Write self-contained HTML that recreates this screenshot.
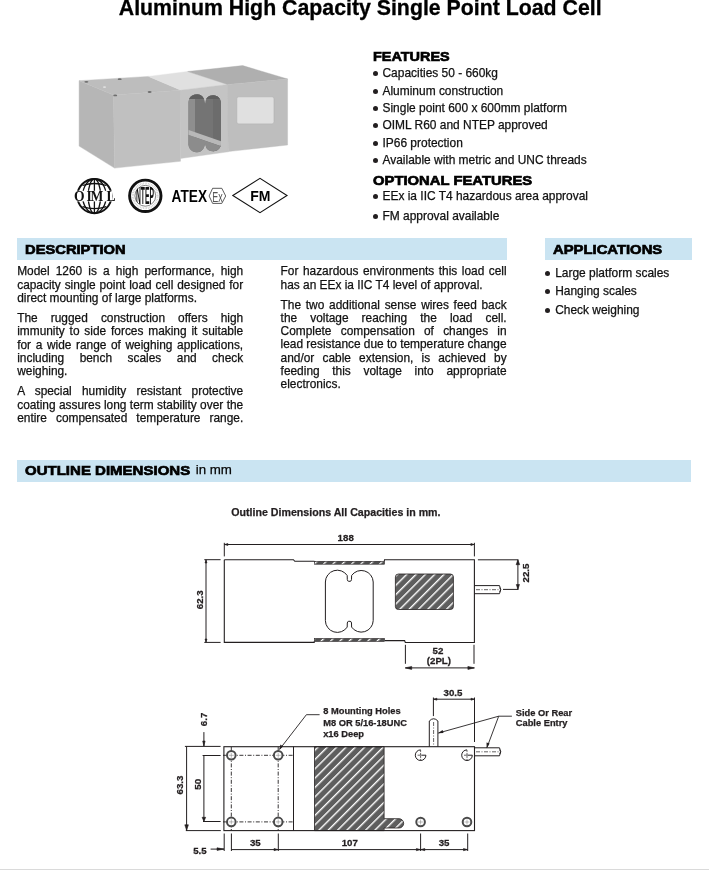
<!DOCTYPE html>
<html><head><meta charset="utf-8">
<style>
html,body{margin:0;padding:0;background:#fff;}
body{width:709px;height:870px;position:relative;overflow:hidden;will-change:transform;font-family:"Liberation Sans",sans-serif;color:#111;}
.a{position:absolute;white-space:pre;}
.title{font-weight:700;font-size:21.3px;line-height:25px;color:#000;-webkit-text-stroke:0.3px #000;}
.hd{font-weight:700;font-size:13.5px;line-height:16px;color:#000;transform-origin:0 0;-webkit-text-stroke:0.7px #000;}
.band{position:absolute;background:rgb(202,228,242);}
.li{font-size:11.95px;line-height:14px;-webkit-text-stroke:0.25px #111;}
.dot{position:absolute;width:5px;height:5px;border-radius:50%;background:#231f20;}
.ln{position:absolute;width:226px;font-size:11.9px;line-height:14px;white-space:nowrap;-webkit-text-stroke:0.25px #111;}
.j{text-align:justify;text-align-last:justify;}
.foot{position:absolute;left:0;top:868.6px;width:709px;height:1.4px;background:#dadada;}
svg{position:absolute;left:0;top:0;}
</style></head>
<body>
<div class="a title" style="left:118.80px;top:-4.26px;">Aluminum High Capacity Single Point Load Cell</div>
<div class="band" style="left:17px;top:238px;width:490px;height:22px;"></div>
<div class="band" style="left:545px;top:238px;width:147px;height:22px;"></div>
<div class="band" style="left:17px;top:460px;width:674px;height:21.5px;"></div>
<div class="a hd" style="left:372.70px;top:48.92px;transform:scaleX(1.0689)">FEATURES</div>
<div class="a hd" style="left:25.30px;top:242.02px;transform:scaleX(1.0901)">DESCRIPTION</div>
<div class="a hd" style="left:553.20px;top:242.12px;transform:scaleX(1.0978)">APPLICATIONS</div>
<div class="a hd" style="left:25.05px;top:462.62px;transform:scaleX(1.1122)">OUTLINE DIMENSIONS</div>
<div class="a li" style="left:195.70px;top:463.19px;color:#000;font-size:13.3px">in mm</div>
<div class="dot" style="left:372.50px;top:71.20px"></div>
<div class="a li" style="left:382.50px;top:66.11px;">Capacities 50 - 660kg</div>
<div class="dot" style="left:372.50px;top:88.60px"></div>
<div class="a li" style="left:382.50px;top:83.51px;">Aluminum construction</div>
<div class="dot" style="left:372.50px;top:106.00px"></div>
<div class="a li" style="left:382.50px;top:100.91px;">Single point 600 x 600mm platform</div>
<div class="dot" style="left:372.50px;top:123.40px"></div>
<div class="a li" style="left:382.50px;top:118.31px;">OIML R60 and NTEP approved</div>
<div class="dot" style="left:372.50px;top:140.80px"></div>
<div class="a li" style="left:382.50px;top:135.71px;">IP66 protection</div>
<div class="dot" style="left:372.50px;top:158.20px"></div>
<div class="a li" style="left:382.50px;top:153.11px;">Available with metric and UNC threads</div>
<div class="a hd" style="left:372.70px;top:172.62px;transform:scaleX(1.0978)">OPTIONAL FEATURES</div>
<div class="dot" style="left:372.50px;top:194.40px"></div>
<div class="a li" style="left:382.50px;top:189.31px;">EEx ia IIC T4 hazardous area approval</div>
<div class="dot" style="left:372.50px;top:213.80px"></div>
<div class="a li" style="left:382.50px;top:208.71px;">FM approval available</div>
<div class="dot" style="left:545.30px;top:271.20px"></div>
<div class="a li" style="left:555.20px;top:266.11px;">Large platform scales</div>
<div class="dot" style="left:545.30px;top:289.10px"></div>
<div class="a li" style="left:555.20px;top:284.01px;">Hanging scales</div>
<div class="dot" style="left:545.30px;top:307.80px"></div>
<div class="a li" style="left:555.20px;top:302.71px;">Check weighing</div>
<div class="ln j" style="left:17.2px;top:264.00px;">Model 1260 is a high performance, high</div>
<div class="ln j" style="left:17.2px;top:278.00px;">capacity single point load cell designed for</div>
<div class="ln" style="left:17.2px;top:291.00px;">direct mounting of large platforms.</div>
<div class="ln j" style="left:17.2px;top:311.00px;">The rugged construction offers high</div>
<div class="ln j" style="left:17.2px;top:324.00px;">immunity to side forces making it suitable</div>
<div class="ln j" style="left:17.2px;top:338.00px;">for a wide range of weighing applications,</div>
<div class="ln j" style="left:17.2px;top:351.00px;">including bench scales and check</div>
<div class="ln" style="left:17.2px;top:364.00px;">weighing.</div>
<div class="ln j" style="left:17.2px;top:384.00px;">A special humidity resistant protective</div>
<div class="ln j" style="left:17.2px;top:398.00px;word-spacing:-1px;">coating assures long term stability over the</div>
<div class="ln j" style="left:17.2px;top:411.00px;">entire compensated temperature range.</div>
<div class="ln j" style="left:280.6px;top:264.00px;">For hazardous environments this load cell</div>
<div class="ln" style="left:280.6px;top:278.00px;">has an EEx ia IIC T4 level of approval.</div>
<div class="ln j" style="left:280.6px;top:298.00px;">The two additional sense wires feed back</div>
<div class="ln j" style="left:280.6px;top:311.00px;">the voltage reaching the load cell.</div>
<div class="ln j" style="left:280.6px;top:324.00px;">Complete compensation of changes in</div>
<div class="ln j" style="left:280.6px;top:337.00px;word-spacing:-1px;">lead resistance due to temperature change</div>
<div class="ln j" style="left:280.6px;top:351.00px;">and/or cable extension, is achieved by</div>
<div class="ln j" style="left:280.6px;top:364.00px;">feeding this voltage into appropriate</div>
<div class="ln" style="left:280.6px;top:377.00px;">electronics.</div>
<svg width="709" height="870" viewBox="0 0 709 870" style="position:absolute;left:0;top:0">
<defs>
<pattern id="hat" patternUnits="userSpaceOnUse" width="6.6" height="6.6" patternTransform="rotate(45)">
<rect width="6.6" height="6.6" fill="#5e5e5e"/><rect x="0" y="0" width="1.4" height="6.6" fill="#fff"/>
</pattern>
<pattern id="hat2" patternUnits="userSpaceOnUse" width="6.6" height="6.6" patternTransform="rotate(45)">
<rect width="6.6" height="6.6" fill="#505050"/><rect x="0" y="0" width="1.3" height="6.6" fill="#fff"/>
</pattern>
<linearGradient id="hole" x1="0" y1="0" x2="1" y2="1">
<stop offset="0" stop-color="#8a8a8a"/><stop offset="0.5" stop-color="#6a6a6a"/><stop offset="1" stop-color="#9a9a9a"/>
</linearGradient>
</defs>
<g><polygon points="79.1,80.7 113.5,95 114.6,168.1 79.1,146.1" fill="#b6b6b6" stroke="#b6b6b6" stroke-width="0.4"/>
<polygon points="79.1,80.7 148.5,76.4 181,90.2 113.5,95" fill="#bdbdbd" stroke="#bdbdbd" stroke-width="0.4"/>
<polygon points="113.5,95 181,90.2 180.5,161.3 114.6,168.1" fill="#c0c0c0" stroke="#c0c0c0" stroke-width="0.4"/>
<polygon points="148.5,76.4 187.7,71.5 227.5,84.5 181,90.2" fill="#e0e0e0" stroke="#e0e0e0" stroke-width="0.4"/>
<polygon points="180.5,90.2 227.8,84.5 228.2,151.8 180.5,158.5" fill="#c4c4c4" stroke="#c4c4c4" stroke-width="0.4"/>
<polygon points="187.7,71.5 242.7,65.6 287.6,79 227.5,84.5" fill="#afafaf" stroke="#afafaf" stroke-width="0.4"/>
<polygon points="227.5,84.5 287.6,79 287.6,145 228.2,151.6" fill="#bebebe" stroke="#bebebe" stroke-width="0.4"/>
<rect x="236.8" y="96.8" width="37.2" height="27.1" rx="2" fill="#e0e0e0" stroke="#b0b0b0" stroke-width="0.6"/><ellipse cx="86.4" cy="81.8" rx="2" ry="0.9" fill="#6e6e6e"/><ellipse cx="119.7" cy="79.2" rx="2" ry="0.9" fill="#6e6e6e"/><ellipse cx="115.2" cy="95.4" rx="2" ry="0.9" fill="#6e6e6e"/><ellipse cx="149.6" cy="92" rx="2" ry="0.9" fill="#6e6e6e"/><ellipse cx="104.5" cy="87.1" rx="1.6" ry="0.9" fill="#e0e0e0"/><clipPath id="dbc"><path d="M188.5,102 A8.2,8.2 0 0 1 203.8,98.5 Q205,101.5 205.1,103.5 Q205.2,101.5 206.4,98.5 A8.2,8.2 0 0 1 221,102 V144.5 A8.2,8.2 0 0 1 206.4,148 Q205.2,145 205.1,143 Q205,145 203.8,148 A8.2,8.2 0 0 1 188.5,144.5 Z"/></clipPath><path d="M188.5,102 A8.2,8.2 0 0 1 203.8,98.5 Q205,101.5 205.1,103.5 Q205.2,101.5 206.4,98.5 A8.2,8.2 0 0 1 221,102 V144.5 A8.2,8.2 0 0 1 206.4,148 Q205.2,145 205.1,143 Q205,145 203.8,148 A8.2,8.2 0 0 1 188.5,144.5 Z" fill="#747474"/><g clip-path="url(#dbc)"><rect x="188" y="93" width="7" height="62" fill="#8e8e8e"/><rect x="213" y="93" width="8" height="62" fill="#6c6c6c"/><rect x="188" y="93" width="33" height="6" fill="#5e5e5e"/><path d="M186,129 L223,142 L223,147 L186,134 Z" fill="#b8b8b8"/><path d="M186,134 L223,147 L223,156 L186,156 Z" fill="#8c8c8c"/></g></g>
<g stroke="#111" fill="none" stroke-width="1.6"><circle cx="94.4" cy="196.1" r="17.1" stroke-width="1.9"/></g>
<g stroke="#111" fill="none" stroke-width="1.3"><line x1="94.4" y1="179" x2="94.4" y2="213.2"/><ellipse cx="94.4" cy="196.1" rx="6.2" ry="17.1"/><ellipse cx="94.4" cy="196.1" rx="11.8" ry="17.1"/><path d="M82.5,185.5 Q94.4,181.5 106.3,185.5"/><path d="M82.5,206.7 Q94.4,210.7 106.3,206.7"/></g>
<rect x="77" y="190.8" width="35" height="10.6" fill="#fff"/>
<text x="73.9" y="200.8" font-family="Liberation Serif" font-weight="700" font-size="13.6" fill="#111">O</text><text x="86.4" y="200.8" font-family="Liberation Serif" font-weight="700" font-size="13.6" fill="#111">I</text><text x="90.6" y="200.8" font-family="Liberation Serif" font-weight="700" font-size="13.6" fill="#111">M</text><text x="106.4" y="200.8" font-family="Liberation Serif" font-weight="700" font-size="13.6" fill="#111">L</text>
<g fill="none"><circle cx="145.3" cy="195.8" r="15.7" stroke="#111" stroke-width="2.9"/><circle cx="145.3" cy="195.8" r="12.4" stroke="#c8c8c8" stroke-width="2" stroke-dasharray="0.7 0.9"/><circle cx="145.3" cy="195.8" r="10.4" stroke="#666" stroke-width="0.8"/></g>
<clipPath id="ntc"><circle cx="145.3" cy="195.8" r="10.6"/></clipPath><g clip-path="url(#ntc)"><text x="136" y="204" font-family="Liberation Sans" font-weight="700" font-size="23" fill="#111" textLength="18" lengthAdjust="spacingAndGlyphs">NTEP</text></g>
<text x="171.6" y="201.7" font-family="Liberation Sans" font-weight="700" font-size="15.9" fill="#000" textLength="35.5" lengthAdjust="spacingAndGlyphs">ATEX</text>
<polygon points="209.1,196 212.6,188.3 221.8,188.3 225.7,196 221.8,203.4 212.6,203.4" fill="none" stroke="#333" stroke-width="0.8"/>
<text x="212.3" y="201.7" font-family="Liberation Sans" font-size="15" fill="#555" textLength="10.4" lengthAdjust="spacingAndGlyphs">Ex</text>
<polygon points="232.8,195.5 260,178.3 287,195.5 260,212.6" fill="none" stroke="#111" stroke-width="1.1"/>
<text x="260.3" y="200.7" font-family="Liberation Sans" font-weight="700" font-size="14" fill="#000" text-anchor="middle">FM</text>
<text x="0" y="0" transform="translate(335.9 516.2) scale(1.000 1)" font-family="Liberation Sans" font-weight="700" font-size="10.64" fill="#231f20" stroke="#231f20" stroke-width="0.25" text-anchor="middle">Outline Dimensions All Capacities in mm.</text>
<line x1="224.3" y1="544.5" x2="474.4" y2="544.5" stroke="#231f20" stroke-width="1" />
<line x1="224.3" y1="542.8" x2="224.3" y2="556.4" stroke="#231f20" stroke-width="1" />
<line x1="474.4" y1="542.8" x2="474.4" y2="556.4" stroke="#231f20" stroke-width="1" />
<polygon points="224.8,544.5 227.8,543.4 227.8,545.6" fill="#231f20" stroke="#231f20" stroke-width="0.6"/>
<polygon points="473.9,544.5 470.9,543.4 470.9,545.6" fill="#231f20" stroke="#231f20" stroke-width="0.6"/>
<text x="0" y="0" transform="translate(345.7 540.6) scale(1.080 1)" font-family="Liberation Sans" font-weight="700" font-size="9.00" fill="#231f20" stroke="#231f20" stroke-width="0.25" text-anchor="middle">188</text>
<path d="M224.3,559.7 H293.4 L294.8,561.3 H314.4 M384.3,561.3 L384.5,559.7 H474.4 V642.5 H405.3 L404.6,640.6 H384.7 M314.2,641.3 V642.4 H224.3 V559.7" stroke="#231f20" stroke-width="1.1" fill="none" />
<rect x="314.4" y="561.3" width="70" height="2.9" fill="url(#hat2)" stroke="#231f20" stroke-width="0.6"/>
<rect x="314.4" y="638.5" width="70" height="2.9" fill="url(#hat2)" stroke="#231f20" stroke-width="0.6"/>
<path d="M325.4,582 A11.9,11.9 0 0 1 347.2,575.5 L347.3,579.6 Q347.5,581.3 348.7,581.3 H350.1 Q351.3,581.3 351.5,579.6 L351.6,575.5 A11.9,11.9 0 0 1 373.2,582 V620.6 A11.9,11.9 0 0 1 351.6,627.1 L351.5,623 Q351.3,621.3 350.1,621.3 H348.7 Q347.5,621.3 347.3,623 L347.2,627.1 A11.9,11.9 0 0 1 325.4,620.6 Z" stroke="#231f20" stroke-width="1" fill="none" />
<rect x="395.4" y="574" width="58" height="35.5" rx="3" fill="url(#hat)" stroke="#231f20" stroke-width="0.8"/>
<path d="M474.4,585.6 H499.5 Q502,589.6 499.5,593.7 H474.4" stroke="#231f20" stroke-width="1" fill="none" />
<path d="M499.6,587.6 Q501.5,589.8 499.6,592" stroke="#231f20" stroke-width="0.8" fill="none" />
<line x1="476" y1="589.7" x2="499" y2="589.7" stroke="#231f20" stroke-width="0.7" stroke-dasharray="4 1.5 1 1.5"/>
<line x1="477.9" y1="559.8" x2="518.4" y2="559.8" stroke="#231f20" stroke-width="1" />
<line x1="503" y1="589.4" x2="518.4" y2="589.4" stroke="#231f20" stroke-width="1" />
<line x1="517.9" y1="559.8" x2="517.9" y2="589.4" stroke="#231f20" stroke-width="1" />
<polygon points="517.9,559.9 516.1,564.6999999999999 519.6999999999999,564.6999999999999" fill="#231f20" stroke="#231f20" stroke-width="0.6"/>
<polygon points="517.9,589.3 516.3,584.5 519.5,584.5" fill="#231f20" stroke="#231f20" stroke-width="0.6"/>
<text x="0" y="0" transform="translate(528.8 573) rotate(-90) scale(1.080 1)" font-family="Liberation Sans" font-weight="700" font-size="9.00" fill="#231f20" stroke="#231f20" stroke-width="0.25" text-anchor="middle">22.5</text>
<line x1="204.3" y1="559.7" x2="220.6" y2="559.7" stroke="#231f20" stroke-width="1" />
<line x1="204.3" y1="642.4" x2="220.6" y2="642.4" stroke="#231f20" stroke-width="1" />
<line x1="206" y1="559.7" x2="206" y2="642.4" stroke="#231f20" stroke-width="1" />
<polygon points="206,560 205.0,563 207.0,563" fill="#231f20" stroke="#231f20" stroke-width="0.6"/>
<polygon points="206,642 205.0,639 207.0,639" fill="#231f20" stroke="#231f20" stroke-width="0.6"/>
<text x="0" y="0" transform="translate(203 599.8) rotate(-90) scale(1.080 1)" font-family="Liberation Sans" font-weight="700" font-size="9.00" fill="#231f20" stroke="#231f20" stroke-width="0.25" text-anchor="middle">62.3</text>
<line x1="405.4" y1="644.8" x2="405.4" y2="663.8" stroke="#231f20" stroke-width="1" />
<line x1="474" y1="644.8" x2="474" y2="663.8" stroke="#231f20" stroke-width="1" />
<line x1="405.4" y1="667.9" x2="474.4" y2="667.9" stroke="#231f20" stroke-width="1" />
<polygon points="405.2,667.9 411.7,666.4 411.7,669.4" fill="#231f20" stroke="#231f20" stroke-width="0.6"/>
<polygon points="474.4,667.9 467.9,666.4 467.9,669.4" fill="#231f20" stroke="#231f20" stroke-width="0.6"/>
<text x="0" y="0" transform="translate(438 654) scale(1.080 1)" font-family="Liberation Sans" font-weight="700" font-size="9.00" fill="#231f20" stroke="#231f20" stroke-width="0.25" text-anchor="middle">52</text>
<text x="0" y="0" transform="translate(438.9 663.8) scale(1.080 1)" font-family="Liberation Sans" font-weight="700" font-size="9.00" fill="#231f20" stroke="#231f20" stroke-width="0.25" text-anchor="middle">(2PL)</text>
<path d="M314.5,746.7 H384.1 V818.7 H399 A4.65,4.65 0 0 1 399,828 H384.1 V830.6 H314.5 Z" fill="url(#hat)" stroke="#231f20" stroke-width="0.8"/>
<rect x="223.9" y="746.7" width="250.6" height="83.9" fill="none" stroke="#231f20" stroke-width="1.1"/>
<line x1="293.5" y1="746.7" x2="293.5" y2="830.6" stroke="#231f20" stroke-width="1" />
<path d="M223,755.3 H293 M223,821.9 H293 M231.3,747 V830 M278.2,747 V830" stroke="#231f20" stroke-width="0.9" fill="none" stroke-dasharray="4 1.6 1 1.6"/>
<circle cx="231.3" cy="755.3" r="4.3" fill="#fff" stroke="#4a4a4a" stroke-width="2"/>
<line x1="231.3" y1="752.8" x2="231.3" y2="757.8" stroke="#777" stroke-width="0.5" />
<line x1="228.8" y1="755.3" x2="233.8" y2="755.3" stroke="#777" stroke-width="0.5" />
<circle cx="278.2" cy="755.3" r="4.3" fill="#fff" stroke="#4a4a4a" stroke-width="2"/>
<line x1="278.2" y1="752.8" x2="278.2" y2="757.8" stroke="#777" stroke-width="0.5" />
<line x1="275.7" y1="755.3" x2="280.7" y2="755.3" stroke="#777" stroke-width="0.5" />
<circle cx="231.3" cy="821.9" r="4.3" fill="#fff" stroke="#4a4a4a" stroke-width="2"/>
<line x1="231.3" y1="819.4" x2="231.3" y2="824.4" stroke="#777" stroke-width="0.5" />
<line x1="228.8" y1="821.9" x2="233.8" y2="821.9" stroke="#777" stroke-width="0.5" />
<circle cx="278.2" cy="821.9" r="4.3" fill="#fff" stroke="#4a4a4a" stroke-width="2"/>
<line x1="278.2" y1="819.4" x2="278.2" y2="824.4" stroke="#777" stroke-width="0.5" />
<line x1="275.7" y1="821.9" x2="280.7" y2="821.9" stroke="#777" stroke-width="0.5" />
<circle cx="420.6" cy="822" r="4.3" fill="#fff" stroke="#4a4a4a" stroke-width="2"/>
<line x1="420.6" y1="819.5" x2="420.6" y2="824.5" stroke="#777" stroke-width="0.5" />
<line x1="418.1" y1="822" x2="423.1" y2="822" stroke="#777" stroke-width="0.5" />
<circle cx="467" cy="822" r="4.3" fill="#fff" stroke="#4a4a4a" stroke-width="2"/>
<line x1="467" y1="819.5" x2="467" y2="824.5" stroke="#777" stroke-width="0.5" />
<line x1="464.5" y1="822" x2="469.5" y2="822" stroke="#777" stroke-width="0.5" />
<path d="M420.6,749.9000000000001 A5.3,5.3 0 1 0 425.90000000000003,755.2 H421.6" fill="none" stroke="#231f20" stroke-width="1"/>
<line x1="420.6" y1="749.9000000000001" x2="420.6" y2="760.5" stroke="#231f20" stroke-width="0.7" stroke-dasharray="2 1"/>
<line x1="417.6" y1="755.2" x2="421.6" y2="755.2" stroke="#231f20" stroke-width="0.7" />
<path d="M467,749.9000000000001 A5.3,5.3 0 1 0 472.3,755.2 H468" fill="none" stroke="#231f20" stroke-width="1"/>
<line x1="467" y1="749.9000000000001" x2="467" y2="760.5" stroke="#231f20" stroke-width="0.7" stroke-dasharray="2 1"/>
<line x1="464" y1="755.2" x2="468" y2="755.2" stroke="#231f20" stroke-width="0.7" />
<path d="M429.3,746.7 V721 Q433.6,716.5 437.9,721 V746.7" stroke="#231f20" stroke-width="1" fill="none" />
<line x1="433.6" y1="722" x2="433.6" y2="745" stroke="#231f20" stroke-width="0.7" stroke-dasharray="4 1.5 1 1.5"/>
<path d="M474.5,747.8 H499.5 Q502,751.8 499.5,755.8 H474.5" stroke="#231f20" stroke-width="1" fill="none" />
<path d="M499.6,749.6 Q501.5,751.8 499.6,754" stroke="#231f20" stroke-width="0.8" fill="none" />
<line x1="476" y1="751.8" x2="499" y2="751.8" stroke="#231f20" stroke-width="0.7" stroke-dasharray="4 1.5 1 1.5"/>
<line x1="433.4" y1="699.2" x2="474.5" y2="699.2" stroke="#231f20" stroke-width="1" />
<line x1="433.4" y1="697.5" x2="433.4" y2="716.1" stroke="#231f20" stroke-width="1" />
<line x1="474.5" y1="697.5" x2="474.5" y2="742" stroke="#231f20" stroke-width="1" />
<polygon points="433.9,699.2 436.9,698.2 436.9,700.2" fill="#231f20" stroke="#231f20" stroke-width="0.6"/>
<polygon points="474,699.2 471,698.2 471,700.2" fill="#231f20" stroke="#231f20" stroke-width="0.6"/>
<text x="0" y="0" transform="translate(453 695.8) scale(1.080 1)" font-family="Liberation Sans" font-weight="700" font-size="9.00" fill="#231f20" stroke="#231f20" stroke-width="0.25" text-anchor="middle">30.5</text>
<path d="M279.7,749.2 L306.4,714.7 H319.6" stroke="#231f20" stroke-width="0.9" fill="none" />
<polygon points="279.7,749.5 279.65,749.4 279.75,749.4" fill="#231f20" stroke="#231f20" stroke-width="0.6"/>
<polygon points="279.2,750 280.4,744.6 283,746.6" fill="#231f20"/>
<path d="M511.9,716.2 H498.7 L438.4,733 M498.7,716.2 L486.9,747.7" stroke="#231f20" stroke-width="0.9" fill="none" />
<polygon points="437.8,733.3 442.6,730 443.5,733" fill="#231f20"/>
<polygon points="486.7,748.3 486.5,742.6 489.6,743.5" fill="#231f20"/>
<text x="0" y="0" transform="translate(323.2 713.7) scale(1.000 1)" font-family="Liberation Sans" font-weight="700" font-size="9.30" fill="#231f20" stroke="#231f20" stroke-width="0.25" text-anchor="start">8 Mounting Holes</text>
<text x="0" y="0" transform="translate(323.2 725.9) scale(1.000 1)" font-family="Liberation Sans" font-weight="700" font-size="9.30" fill="#231f20" stroke="#231f20" stroke-width="0.25" text-anchor="start">M8 OR 5/16-18UNC</text>
<text x="0" y="0" transform="translate(323.2 736.8) scale(1.000 1)" font-family="Liberation Sans" font-weight="700" font-size="9.30" fill="#231f20" stroke="#231f20" stroke-width="0.25" text-anchor="start">x16 Deep</text>
<text x="0" y="0" transform="translate(515.8 715.9) scale(1.000 1)" font-family="Liberation Sans" font-weight="700" font-size="9.30" fill="#231f20" stroke="#231f20" stroke-width="0.25" text-anchor="start">Side Or Rear</text>
<text x="0" y="0" transform="translate(515.8 726.3) scale(1.000 1)" font-family="Liberation Sans" font-weight="700" font-size="9.30" fill="#231f20" stroke="#231f20" stroke-width="0.25" text-anchor="start">Cable Entry</text>
<line x1="184.9" y1="746.4" x2="220.6" y2="746.4" stroke="#231f20" stroke-width="1" />
<line x1="185.8" y1="830.6" x2="220.8" y2="830.6" stroke="#231f20" stroke-width="1" />
<line x1="186.6" y1="746.4" x2="186.6" y2="830.6" stroke="#231f20" stroke-width="1" />
<polygon points="186.6,830.3 184.79999999999998,824.8 188.4,824.8" fill="#231f20" stroke="#231f20" stroke-width="0.6"/>
<line x1="203.9" y1="732.1" x2="203.9" y2="746" stroke="#231f20" stroke-width="1" />
<polygon points="203.9,746 202.70000000000002,741 205.1,741" fill="#231f20" stroke="#231f20" stroke-width="0.6"/>
<text x="0" y="0" transform="translate(207 719.4) rotate(-90) scale(1.080 1)" font-family="Liberation Sans" font-weight="700" font-size="9.00" fill="#231f20" stroke="#231f20" stroke-width="0.25" text-anchor="middle">6.7</text>
<line x1="202.6" y1="755.5" x2="220.6" y2="755.5" stroke="#231f20" stroke-width="1" />
<line x1="203" y1="821.5" x2="220.6" y2="821.5" stroke="#231f20" stroke-width="1" />
<line x1="203.9" y1="755.5" x2="203.9" y2="821.5" stroke="#231f20" stroke-width="1" />
<polygon points="203.9,821.3 202.1,817.3 205.70000000000002,817.3" fill="#231f20" stroke="#231f20" stroke-width="0.6"/>
<text x="0" y="0" transform="translate(201.2 784.3) rotate(-90) scale(1.080 1)" font-family="Liberation Sans" font-weight="700" font-size="9.00" fill="#231f20" stroke="#231f20" stroke-width="0.25" text-anchor="middle">50</text>
<text x="0" y="0" transform="translate(183 785) rotate(-90) scale(1.080 1)" font-family="Liberation Sans" font-weight="700" font-size="9.00" fill="#231f20" stroke="#231f20" stroke-width="0.25" text-anchor="middle">63.3</text>
<line x1="224.2" y1="833.5" x2="224.2" y2="851" stroke="#231f20" stroke-width="1" />
<line x1="231.4" y1="833.5" x2="231.4" y2="851" stroke="#231f20" stroke-width="1" />
<line x1="278.3" y1="833.5" x2="278.3" y2="851" stroke="#231f20" stroke-width="1" />
<line x1="420.6" y1="833.5" x2="420.6" y2="851" stroke="#231f20" stroke-width="1" />
<line x1="467.7" y1="833.5" x2="467.7" y2="851" stroke="#231f20" stroke-width="1" />
<line x1="231.4" y1="849.6" x2="467.7" y2="849.6" stroke="#231f20" stroke-width="1" />
<polygon points="278,849.6 274,848.5 274,850.7" fill="#231f20" stroke="#231f20" stroke-width="0.6"/>
<polygon points="420.4,849.6 416.4,848.5 416.4,850.7" fill="#231f20" stroke="#231f20" stroke-width="0.6"/>
<polygon points="420.8,849.6 424.8,848.5 424.8,850.7" fill="#231f20" stroke="#231f20" stroke-width="0.6"/>
<polygon points="467.5,849.6 463.5,848.5 463.5,850.7" fill="#231f20" stroke="#231f20" stroke-width="0.6"/>
<line x1="210.6" y1="849.1" x2="224" y2="849.1" stroke="#231f20" stroke-width="1" />
<polygon points="224,849.1 217,847.8000000000001 217,850.4" fill="#231f20" stroke="#231f20" stroke-width="0.6"/>
<text x="0" y="0" transform="translate(255.3 846.4) scale(1.080 1)" font-family="Liberation Sans" font-weight="700" font-size="9.00" fill="#231f20" stroke="#231f20" stroke-width="0.25" text-anchor="middle">35</text>
<text x="0" y="0" transform="translate(349.8 846.4) scale(1.080 1)" font-family="Liberation Sans" font-weight="700" font-size="9.00" fill="#231f20" stroke="#231f20" stroke-width="0.25" text-anchor="middle">107</text>
<text x="0" y="0" transform="translate(444.1 846.4) scale(1.080 1)" font-family="Liberation Sans" font-weight="700" font-size="9.00" fill="#231f20" stroke="#231f20" stroke-width="0.25" text-anchor="middle">35</text>
<text x="0" y="0" transform="translate(199.9 853.6) scale(1.080 1)" font-family="Liberation Sans" font-weight="700" font-size="9.00" fill="#231f20" stroke="#231f20" stroke-width="0.25" text-anchor="middle">5.5</text>
</svg>
<div class="foot"></div>
</body></html>
